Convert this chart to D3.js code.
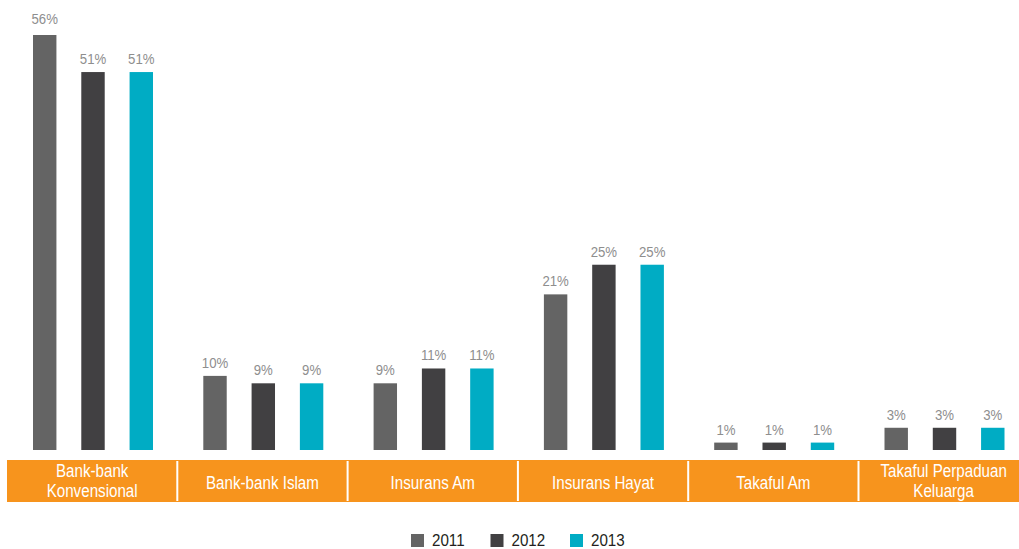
<!DOCTYPE html>
<html>
<head>
<meta charset="utf-8">
<script src="https://cdn.jsdelivr.net/npm/d3@7"></script>
<style>
  body { margin: 0; background: #fff; }
  svg text { font-family: "Liberation Sans", Arial, sans-serif; }
</style>
</head>
<body>
<svg></svg>
<script>
// data
var categories = [["Bank-bank", "Konvensional"], ["Bank-bank Islam"], ["Insurans Am"],
  ["Insurans Hayat"], ["Takaful Am"], ["Takaful Perpaduan", "Keluarga"]];
var years = ["2011", "2012", "2013"];
var v2011 = [56, 10, 9, 21, 1, 3];
var v2012 = [51, 9, 11, 25, 1, 3];
var v2013 = [51, 9, 11, 25, 1, 3];
var colors = ["#646464", "#414042", "#00acc4"];

window.onload = function() {
  var svg = d3.select("svg")
    .attr("width", 1019)
    .attr("height", 549);

  var series = [v2011, v2012, v2013];

  // orange category band goes first so the groups sit on top of it
  svg.append("rect")
    .attr("x", 7).attr("y", 460)
    .attr("width", 1012).attr("height", 42)
    .attr("fill", "#f7941d");

  var x0 = d3.scaleBand()
    .domain(d3.range(categories.length))
    .range([7, 7 + 170.3 * 6])
    .paddingInner(0).paddingOuter(0);

  var x1 = d3.scaleBand()
    .domain(years)
    .range([26, 146])
    .paddingInner(0.515)
    .paddingOuter(0);

  var y = d3.scaleLinear()
    .domain([0, 56])
    .range([450, 35]);

  var groups = svg.selectAll("g.grp")
    .data(categories).enter()
    .append("g")
    .attr("class", "grp")
    .attr("transform", function(d, i) { return "translate(" + x0(i) + ",0)"; });

  years.forEach(function(yr, j) {
    groups.append("rect")
      .attr("x", x1(yr))
      .attr("width", x1.bandwidth())
      .attr("y", function(d, i) { return y(series[j][i]); })
      .attr("height", function(d, i) { return 450 - y(series[j][i]); })
      .attr("fill", colors[j]);

    // condensed look: squeeze text horizontally
    groups.append("text")
      .attr("transform", function(d, i) {
        var gap = series[j][i] === d3.max(v2011) ? 11 : 8; // top label sits a bit higher
        return "translate(" + (x1(yr) + x1.bandwidth() / 2) + "," + (y(series[j][i]) - gap) + ") scale(0.88,1)";
      })
      .attr("text-anchor", "middle")
      .attr("font-size", 15)
      .attr("fill", "#8e8e8e")
      .text(function(d, i) { return series[j][i] + "%"; });
  });

  // white separators between categories
  groups.filter(function(d, i) { return i > 0; })
    .append("rect")
    .attr("x", -1).attr("y", 461)
    .attr("width", 2).attr("height", 40)
    .attr("fill", "#fff");

  groups.append("text")
    .attr("transform", "translate(" + (x0.bandwidth() / 2) + ",0) scale(0.82,1)")
    .attr("text-anchor", "middle")
    .attr("font-size", 18.5)
    .attr("fill", "#fff")
    .each(function(d) {
      var t = d3.select(this);
      var startY = d.length === 1 ? 489 : 477;
      d.forEach(function(line, k) {
        t.append("tspan")
          .attr("x", 0)
          .attr("y", startY + k * 20.5)
          .text(line);
      });
    });

  // legend
  var legend = svg.selectAll("g.leg")
    .data(years).enter()
    .append("g")
    .attr("class", "leg")
    .attr("transform", function(d, i) { return "translate(" + (411 + i * 79.5) + ",533)"; });

  legend.append("rect")
    .attr("y", 1)
    .attr("width", 13).attr("height", 13)
    .attr("fill", function(d, i) { return colors[i]; });

  legend.append("text")
    .attr("transform", "translate(21,13) scale(0.92,1)")
    .attr("font-size", 16.5)
    .attr("fill", "#231f20")
    .text(function(d) { return d; });
};
</script>
</body>
</html>
